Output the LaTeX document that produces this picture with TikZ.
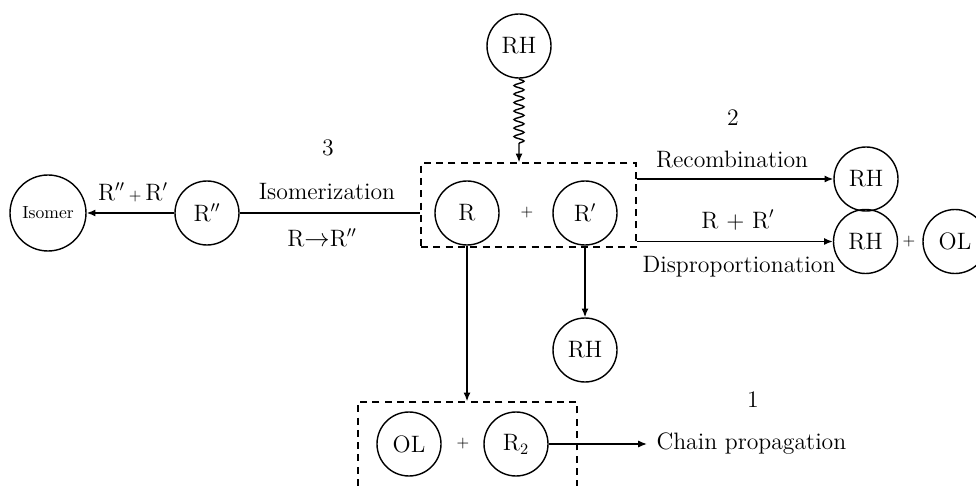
\documentclass[tikz,border=0pt]{standalone}
\usepackage{amsmath}
\usetikzlibrary{arrows.meta,decorations.pathmorphing}

\tikzset{
  mol/.style={draw, circle, minimum size=1.28cm, inner sep=0pt},
  grp/.style={draw, dash pattern=on 4pt off 3pt},
  rxn/.style={-{Latex[length=5pt,width=4pt]}},
  pls/.style={font=\fontsize{9}{11}\selectfont},
}

\begin{document}
\begin{tikzpicture}[line width=0.8pt, font=\fontsize{13.5}{16}\selectfont]
\useasboundingbox (0,0) rectangle (19.52,9.7);

% radical pair
\node[grp, minimum width=4.3cm, minimum height=1.68cm] (pair) at (10.57,5.60) {};
\node[mol] (r) at (9.34,5.44) {R};
\node[pls] (plusa) at (10.54,5.44) {+};
\node[mol] (rp) at (11.70,5.44) {R$'$};
\node[mol] (rhtop) at (10.38,8.78) {RH};

% isomerization
\node[mol] (rpp) at (4.14,5.44) {R$''$};
\node[mol, minimum size=1.52cm, font=\fontsize{10}{12}\selectfont] (isomer) at (0.96,5.44) {Isomer};

% recombination, disproportionation
\node[mol] (rhrec) at (17.32,6.12) {RH};
\node[mol] (rhdis) at (17.31,4.87) {RH};
\node[pls] (plusb) at (18.18,4.87) {+};
\node[mol] (oldis) at (19.10,4.87) {OL};
\node[mol] (rhlow) at (11.70,2.70) {RH};

% chain propagation
\node[grp, minimum width=4.38cm, minimum height=2cm] (prop) at (9.35,0.66) {};
\node[mol] (ollow) at (8.18,0.82) {OL};
\node[pls] (plusc) at (9.26,0.82) {+};
\node[mol] (r2) at (10.32,0.82) {R$_2$};
\node[anchor=west, inner sep=5pt] (chain) at (12.94,0.82) {Chain propagation};

\draw[rxn, decorate, decoration={snake, amplitude=0.1cm, segment length=0.17cm, post length=0.32cm}] (rhtop.south) -- (rhtop.south |- pair.north);
\draw (rpp.east) -- (rpp.east -| pair.west);
\draw[rxn] (rpp.west) -- (isomer.east);
\draw[rxn] (pair.east |- rhrec) -- (rhrec.west);
\draw[rxn] (pair.east |- rhdis) -- (rhdis.west);
\draw[rxn] (rp.south) -- (rhlow.north);
\draw[rxn] (r.south) -- (r.south |- prop.north);
\draw[rxn] (r2.east) -- (chain.west);

\node (nthree) at (6.56,6.74) {3};
\node (isolbl) at (6.54,5.86) {Isomerization};
\node (rrpp) at (6.44,4.94) {R$\rightarrow$R$''$};
\node (rppr) at (2.66,5.86) {R$''$\,{\fontsize{9}{11}\selectfont+}\,R$'$};
\node (ntwo) at (14.66,7.34) {2};
\node (reclbl) at (14.64,6.5) {Recombination};
\node (rrp) at (14.76,5.3) {R + R$'$};
\node (dislbl) at (14.78,4.36) {Disproportionation};
\node (none) at (15.06,1.7) {1};
\end{tikzpicture}
\end{document}
